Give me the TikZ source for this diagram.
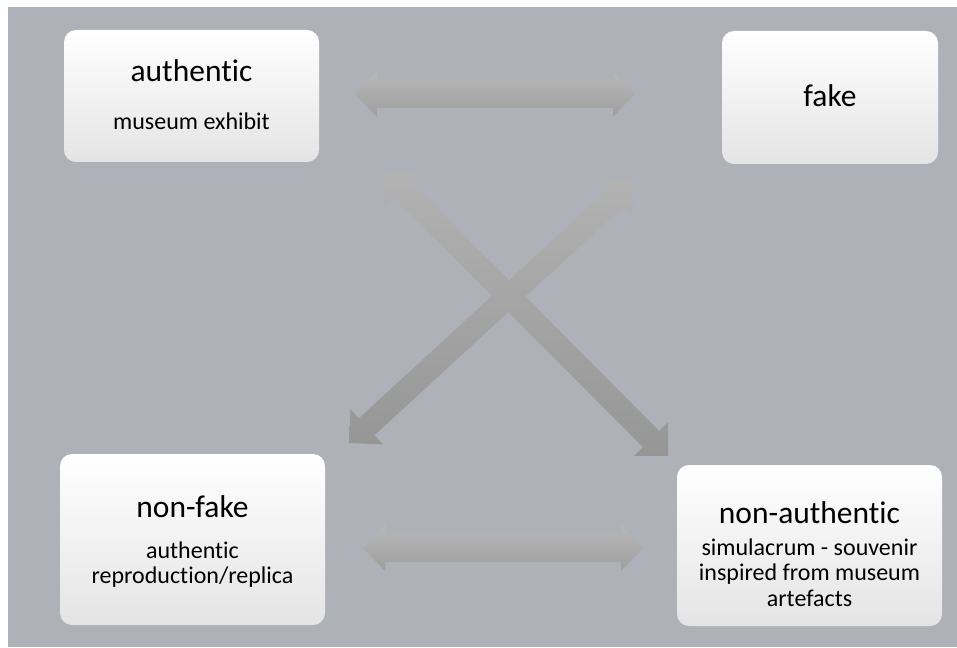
\documentclass[tikz,border=0pt]{standalone}
\usepackage{fontspec}
\setmainfont{Carlito}[Ligatures=NoCommon]
\usetikzlibrary{calc}

\definecolor{canvasgray}{RGB}{175,177,184}
\definecolor{cardbottom}{RGB}{228,228,228}
\definecolor{harrowtop}{RGB}{184,184,184}
\definecolor{harrowbottom}{RGB}{158,158,158}
\definecolor{darrowtop}{RGB}{178,178,178}
\definecolor{darrowbottom}{RGB}{150,150,150}

% Double-headed block arrow between two named coordinates:
% #1 from, #2 to, #3 half shaft width, #4 half head width, #5 head length, #6 style
\newcommand\blockarrow[6]{%
  \coordinate (#1h) at ($(#1)!#5!(#2)$);
  \coordinate (#2h) at ($(#2)!#5!(#1)$);
  \path[#6] (#1)
    -- ($(#1h)!#4!90:(#2)$) -- ($(#1h)!#3!90:(#2)$)
    -- ($(#2h)!#3!-90:(#1)$) -- ($(#2h)!#4!-90:(#1)$)
    -- (#2)
    -- ($(#2h)!#4!90:(#1)$) -- ($(#2h)!#3!90:(#1)$)
    -- ($(#1h)!#3!-90:(#2)$) -- ($(#1h)!#4!-90:(#2)$)
    -- cycle;}

\begin{document}
\begin{tikzpicture}[x=1pt,y=-1pt,
  card/.style={rectangle, rounded corners=12pt, inner sep=0pt, outer sep=0pt,
    top color=white, middle color=white, bottom color=cardbottom},
  title/.style={anchor=base, inner sep=0pt, font=\fontsize{31.5}{36}\selectfont},
  subtitle/.style={anchor=base, inner sep=0pt, font=\fontsize{24}{26}\selectfont},
  harrow/.style={top color=harrowtop, bottom color=harrowbottom},
  darrow/.style={top color=darrowtop, bottom color=darrowbottom}]

\useasboundingbox (0,0) rectangle (957,647);
\fill[canvasgray] (8,7) rectangle (957,647);

% arrow end points
\coordinate (topL) at (355,94);
\coordinate (topR) at (635,94);
\coordinate (botL) at (363,548);
\coordinate (botR) at (643,548);
\coordinate (diagA) at (385,172);
\coordinate (diagB) at (668,456);
\coordinate (diagC) at (634,181);
\coordinate (diagD) at (349,443);

\blockarrow{topL}{topR}{14pt}{23pt}{22pt}{harrow}
\blockarrow{botL}{botR}{14pt}{23pt}{22pt}{harrow}
\blockarrow{diagA}{diagB}{11.5pt}{24pt}{24pt}{darrow}
\blockarrow{diagC}{diagD}{11.5pt}{24pt}{24pt}{darrow}

% the four cards
\node[card, minimum width=255pt, minimum height=132pt] (auth) at (191.5,96) {};
\node[card, minimum width=216pt, minimum height=133pt] (fake) at (830,97.5) {};
\node[card, minimum width=265pt, minimum height=171pt] (nonfake) at (192.5,539.5) {};
\node[card, minimum width=265pt, minimum height=161pt] (nonauth) at (809.5,545.5) {};

% card texts
\node[title] (authT) at (191.5,82) {authentic};
\node[subtitle] (authS) at (191.5,130) {museum exhibit};

\node[title] (fakeT) at (830,107) {fake};

\node[title] (nonfakeT) at (192.5,517) {non-fake};
\node[subtitle] (nonfakeS1) at (192.5,558) {authentic};
\node[subtitle] (nonfakeS2) at (192.5,583) {reproduction/replica};

\node[title] (nonauthT) at (809.5,523) {non-authentic};
\node[subtitle] (nonauthS1) at (809.5,555) {simulacrum - souvenir};
\node[subtitle] (nonauthS2) at (809.5,580) {inspired from museum};
\node[subtitle] (nonauthS3) at (809.5,606) {artefacts};
\end{tikzpicture}
\end{document}
